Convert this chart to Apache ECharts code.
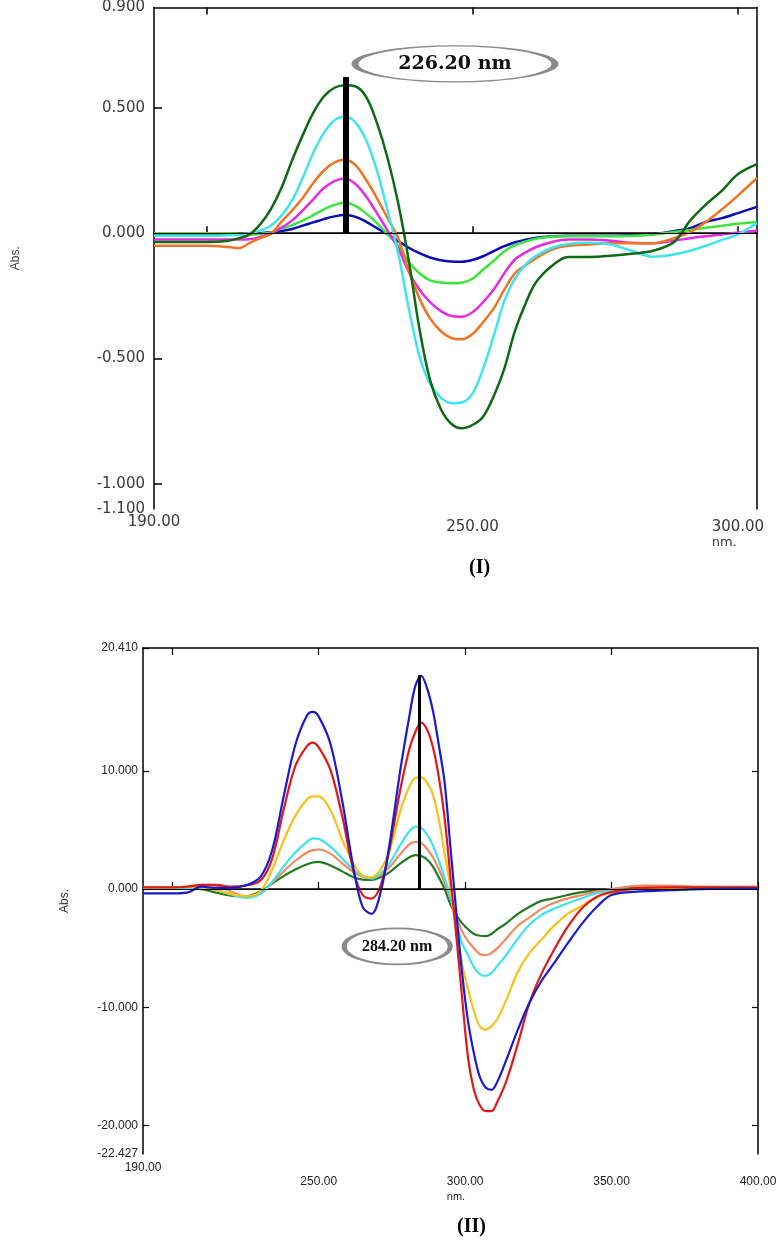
<!DOCTYPE html>
<html>
<head>
<meta charset="utf-8">
<script src="https://cdn.jsdelivr.net/npm/echarts@6/dist/echarts.min.js"></script>
<style>
  html, body { margin: 0; padding: 0; background: #fff; }
  #spectra { width: 780px; height: 1240px; }
</style>
</head>
<body>
<div id="spectra"></div>
<script>
// ---------- (I) first-derivative spectra, 190-303.6 nm ----------
var wlTop = [190, 200, 204, 206, 208, 210, 212, 214, 216, 218, 220, 222, 224, 226, 228, 230, 232, 234, 236, 238, 240, 242, 244, 246, 248, 250, 252, 254, 256, 258, 260, 262, 265, 268, 272, 276, 280, 284, 288, 291, 294, 297, 300, 303.6];
var topDarkGreen = [-0.035, -0.035, -0.03, -0.02, -0.005, 0.035, 0.095, 0.18, 0.29, 0.39, 0.48, 0.545, 0.58, 0.59, 0.585, 0.543, 0.44, 0.30, 0.12, -0.11, -0.38, -0.585, -0.70, -0.76, -0.778, -0.765, -0.732, -0.65, -0.54, -0.39, -0.28, -0.195, -0.13, -0.095, -0.095, -0.09, -0.082, -0.07, -0.035, 0.05, 0.115, 0.17, 0.235, 0.275];
var topCyan = [-0.01, -0.01, -0.008, -0.005, 0.0, 0.01, 0.03, 0.07, 0.13, 0.22, 0.32, 0.40, 0.45, 0.465, 0.44, 0.37, 0.25, 0.09, -0.08, -0.30, -0.49, -0.60, -0.655, -0.678, -0.675, -0.64, -0.54, -0.41, -0.27, -0.18, -0.125, -0.09, -0.058, -0.043, -0.038, -0.045, -0.07, -0.094, -0.085, -0.07, -0.05, -0.027, -0.005, 0.04];
var topOrange = [-0.05, -0.05, -0.055, -0.06, -0.04, -0.02, -0.003, 0.045, 0.09, 0.14, 0.20, 0.25, 0.282, 0.294, 0.27, 0.211, 0.14, 0.06, -0.02, -0.15, -0.26, -0.34, -0.39, -0.418, -0.423, -0.402, -0.355, -0.30, -0.225, -0.16, -0.128, -0.10, -0.065, -0.05, -0.045, -0.04, -0.04, -0.04, -0.02, 0.005, 0.045, 0.095, 0.15, 0.22];
var topMagenta = [-0.025, -0.025, -0.025, -0.025, -0.024, -0.015, 0.0, 0.022, 0.05, 0.09, 0.135, 0.18, 0.208, 0.218, 0.195, 0.145, 0.08, 0.01, -0.06, -0.155, -0.225, -0.275, -0.31, -0.33, -0.333, -0.315, -0.275, -0.225, -0.16, -0.105, -0.077, -0.055, -0.035, -0.025, -0.025, -0.03, -0.038, -0.04, -0.03, -0.02, -0.012, -0.005, 0.003, 0.01];
var topGreen = [0.0, 0.0, 0.0, -0.002, -0.005, -0.003, 0.003, 0.018, 0.032, 0.05, 0.072, 0.095, 0.113, 0.121, 0.108, 0.078, 0.04, -0.005, -0.05, -0.115, -0.16, -0.188, -0.197, -0.2, -0.198, -0.182, -0.145, -0.11, -0.072, -0.048, -0.033, -0.022, -0.013, -0.012, -0.012, -0.012, -0.01, -0.005, 0.005, 0.013, 0.022, 0.03, 0.038, 0.045];
var topBlue = [-0.008, -0.008, -0.006, -0.004, -0.002, 0.0, 0.004, 0.009, 0.017, 0.03, 0.043, 0.056, 0.067, 0.072, 0.065, 0.045, 0.02, -0.005, -0.032, -0.058, -0.08, -0.097, -0.108, -0.113, -0.114, -0.107, -0.092, -0.072, -0.052, -0.036, -0.026, -0.018, -0.012, -0.01, -0.01, -0.01, -0.008, -0.004, 0.008, 0.02, 0.045, 0.06, 0.08, 0.105];

var topYLabels = [0.9, 0.5, 0, -0.5, -1.0, -1.1];
var topYTicks = [0.5, 0, -0.5, -1.0];
var topXLabels = [250, 300];
var topXTicks = [200, 250, 300];
var topPeak = 226.2;

// ---------- (II) first-derivative spectra, 190-400 nm ----------
var wlBot = [190, 200, 205, 210, 215, 220, 225, 230, 234, 238, 242, 246, 248, 250, 254, 258, 262, 265, 268, 271, 274, 278, 281, 283, 285, 287, 289, 291, 293, 295, 297, 299, 301, 303, 305, 307, 309, 311, 314, 318, 322, 326, 330, 335, 340, 345, 350, 360, 370, 380, 390, 400];
var botBlue = [-0.37, -0.37, -0.3, 0.2, 0.1, 0.1, 0.3, 1.0, 3.2, 7.8, 12.2, 14.7, 15.0, 14.6, 12.3, 7.5, 1.6, -1.5, -2.1, -0.4, 3.5, 10.3, 14.7, 17.2, 18.05, 17.0, 15.1, 12.2, 9.0, 3.5, -2.0, -7.2, -11.2, -13.9, -15.9, -16.8, -17.0, -16.3, -14.5, -11.9, -9.6, -7.8, -6.4, -4.6, -2.9, -1.5, -0.5, -0.2, -0.1, 0.0, 0.05, 0.05];
var botRed = [0.15, 0.15, 0.2, 0.35, 0.35, 0.2, 0.3, 0.7, 2.5, 6.7, 10.4, 12.1, 12.4, 12.0, 10.1, 6.2, 1.4, -0.5, -0.8, 0.2, 3.2, 8.6, 11.9, 13.3, 14.1, 13.5, 12.0, 9.5, 6.0, 1.0, -4.0, -9.3, -14.3, -17.0, -18.3, -18.8, -18.8, -18.0, -16.3, -13.1, -9.6, -7.2, -5.3, -3.2, -1.6, -0.65, -0.25, 0.1, 0.15, 0.15, 0.15, 0.15];
var botYellow = [0.15, 0.15, 0.2, 0.15, -0.1, -0.4, -0.62, -0.2, 1.6, 4.1, 6.2, 7.6, 7.85, 7.85, 6.7, 4.2, 2.1, 1.15, 1.0, 1.6, 3.1, 6.7, 8.7, 9.4, 9.45, 9.0, 8.0, 5.9, 3.0, 0.1, -3.6, -6.4, -8.5, -10.3, -11.6, -11.9, -11.6, -11.0, -9.4, -7.0, -5.4, -4.3, -3.2, -2.1, -1.4, -0.65, -0.35, 0.05, 0.1, 0.1, 0.15, 0.15];
var botCyan = [0.1, 0.1, 0.1, 0.1, -0.1, -0.45, -0.75, -0.4, 0.6, 1.9, 3.1, 4.0, 4.3, 4.25, 3.6, 2.6, 1.6, 1.1, 0.9, 1.3, 2.1, 3.8, 4.9, 5.3, 5.2, 4.6, 3.7, 2.4, 0.9, -0.7, -2.9, -4.6, -5.6, -6.6, -7.2, -7.35, -7.1, -6.5, -5.6, -4.2, -3.0, -2.2, -1.7, -1.2, -0.75, -0.35, -0.15, 0.05, 0.1, 0.05, 0.1, 0.1];
var botSalmon = [0.15, 0.15, 0.2, 0.35, 0.3, -0.2, -0.6, -0.4, 0.5, 1.5, 2.4, 3.1, 3.3, 3.35, 3.0, 2.2, 1.4, 1.05, 0.9, 1.2, 1.8, 3.0, 3.8, 4.0, 3.9, 3.4, 2.7, 1.7, 0.5, -0.8, -2.3, -3.6, -4.4, -5.0, -5.5, -5.6, -5.4, -5.0, -4.2, -3.1, -2.4, -1.7, -1.2, -0.8, -0.5, -0.2, 0.0, 0.3, 0.3, 0.2, 0.2, 0.2];
var botDarkGreen = [0.1, 0.1, 0.05, 0.0, -0.3, -0.55, -0.6, -0.2, 0.45, 1.1, 1.65, 2.1, 2.25, 2.3, 2.0, 1.5, 1.0, 0.8, 0.78, 1.0, 1.4, 2.2, 2.7, 2.88, 2.8, 2.5, 1.9, 1.0, 0.0, -1.3, -2.2, -2.9, -3.4, -3.8, -3.95, -3.98, -3.8, -3.4, -2.9, -2.1, -1.5, -1.0, -0.8, -0.5, -0.25, -0.1, 0.0, 0.1, 0.1, 0.1, 0.1, 0.1];

var botYLabels = [20.41, 10, 0, -10, -20, -22.427];
var botYTicks = [20.41, 10, 0, -10, -20];
var botXLabels = [250, 300, 350, 400];
var botXTicks = [200, 250, 300, 350, 400];
var botPeak = 284.2;

function pairs(xs, ys) {
  return xs.map(function (x, i) { return [x, ys[i]]; });
}

function curve(name, xs, ys, color, idx, width) {
  return {
    name: name,
    type: 'line',
    xAxisIndex: idx,
    yAxisIndex: idx === 0 ? 0 : 2,
    data: pairs(xs, ys),
    smooth: 0.35,
    showSymbol: false,
    symbol: 'none',
    lineStyle: { color: color, width: width },
    itemStyle: { color: color },
    silent: true
  };
}

var black = '#000';
var labelTop = { fontFamily: 'DejaVu Sans', fontSize: 15, color: '#3a3a3a' };
var labelBot = { fontFamily: 'Liberation Sans', fontSize: 12, color: '#222' };
var ellipsePath = 'path://M0,50 A50,50 0 1,1 100,50 A50,50 0 1,1 0,50 Z';

var chart = echarts.init(document.getElementById('spectra'), null, { renderer: 'canvas' });

var option = {
  backgroundColor: '#fff',
  animation: false,
  title: [
    { text: '(I)', left: 464, top: 553, textStyle: { fontFamily: 'Liberation Serif', fontWeight: 'bold', fontSize: 20, color: '#000' } },
    { text: '(II)', left: 452, top: 1212, textStyle: { fontFamily: 'Liberation Serif', fontWeight: 'bold', fontSize: 20, color: '#000' } }
  ],
  grid: [
    { left: 154, top: 7, width: 603, height: 502 },
    { left: 143, top: 648, width: 615, height: 506 }
  ],
  xAxis: [
    { // 0: top chart bottom axis
      type: 'value', gridIndex: 0, min: 190, max: 303.6, position: 'bottom',
      axisLine: { lineStyle: { color: black, width: 1.5 } },
      axisTick: { inside: true, length: 7, customValues: topXTicks, lineStyle: { color: black, width: 1.5 } },
      axisLabel: Object.assign({
        customValues: topXLabels, margin: 11,
        formatter: function (v) { return v === 300 ? '300.00\n{n|nm.}' : v.toFixed(2); },
        rich: { n: { align: 'left', fontFamily: 'DejaVu Sans', fontSize: 13, color: '#3a3a3a', padding: [1, 0, 0, 0] } }
      }, labelTop),
      splitLine: { show: false }
    },
    { // 1: lone 190 label, sits a little higher
      type: 'value', gridIndex: 0, min: 190, max: 303.6, position: 'bottom',
      axisLine: { show: false }, axisTick: { show: false }, splitLine: { show: false },
      axisLabel: Object.assign({ customValues: [190], margin: 6, formatter: function (v) { return v.toFixed(2); } }, labelTop)
    },
    { // 2: top chart frame
      type: 'value', gridIndex: 0, min: 190, max: 303.6, position: 'top',
      axisLine: { lineStyle: { color: black, width: 1.5 } },
      axisTick: { inside: true, length: 7, customValues: topXTicks, lineStyle: { color: black, width: 1.5 } },
      axisLabel: { show: false }, splitLine: { show: false }
    },
    { // 3: bottom chart axis
      type: 'value', gridIndex: 1, min: 190, max: 400, position: 'bottom',
      axisLine: { lineStyle: { color: black, width: 1.5 } },
      axisTick: { inside: true, length: 7, customValues: botXTicks, lineStyle: { color: black, width: 1.2 } },
      axisLabel: Object.assign({
        customValues: botXLabels, margin: 22,
        formatter: function (v) { return v === 300 ? '300.00\n{n|nm.}' : v.toFixed(2); },
        rich: { n: { align: 'left', fontFamily: 'Liberation Sans', fontSize: 11, color: '#222', padding: [3, 0, 0, 0] } }
      }, labelBot),
      splitLine: { show: false }
    },
    { // 4: lone 190 label
      type: 'value', gridIndex: 1, min: 190, max: 400, position: 'bottom',
      axisLine: { show: false }, axisTick: { show: false }, splitLine: { show: false },
      axisLabel: Object.assign({ customValues: [190], margin: 8, formatter: function (v) { return v.toFixed(2); } }, labelBot)
    },
    { // 5: bottom chart frame
      type: 'value', gridIndex: 1, min: 190, max: 400, position: 'top',
      axisLine: { lineStyle: { color: black, width: 1.5 } },
      axisTick: { inside: true, length: 7, customValues: [200, 250, 300, 350], lineStyle: { color: black, width: 1.2 } },
      axisLabel: { show: false }, splitLine: { show: false }
    }
  ],
  yAxis: [
    { // 0
      type: 'value', gridIndex: 0, min: -1.1, max: 0.9, position: 'left',
      name: 'Abs.', nameLocation: 'middle', nameRotate: 90, nameGap: 132,
      nameTextStyle: { fontFamily: 'Liberation Sans', fontSize: 12, color: '#444' },
      axisLine: { lineStyle: { color: black, width: 1.5 } },
      axisTick: { inside: true, length: 8, customValues: topYTicks, lineStyle: { color: black, width: 1.5 } },
      axisLabel: Object.assign({ customValues: topYLabels, margin: 9, formatter: function (v) { return v.toFixed(3); } }, labelTop),
      splitLine: { show: false }
    },
    { // 1
      type: 'value', gridIndex: 0, min: -1.1, max: 0.9, position: 'right',
      axisLine: { lineStyle: { color: black, width: 1.5 } },
      axisTick: { show: false }, axisLabel: { show: false }, splitLine: { show: false }
    },
    { // 2
      type: 'value', gridIndex: 1, min: -22.427, max: 20.41, position: 'left',
      name: 'Abs.', nameLocation: 'middle', nameRotate: 90, nameGap: 72,
      nameTextStyle: { fontFamily: 'Liberation Sans', fontSize: 12, color: '#333' },
      axisLine: { lineStyle: { color: black, width: 1.5 } },
      axisTick: { inside: true, length: 6, customValues: botYTicks, lineStyle: { color: black, width: 1.2 } },
      axisLabel: Object.assign({ customValues: botYLabels, margin: 5, formatter: function (v) { return v.toFixed(3); } }, labelBot),
      splitLine: { show: false }
    },
    { // 3
      type: 'value', gridIndex: 1, min: -22.427, max: 20.41, position: 'right',
      axisLine: { lineStyle: { color: black, width: 1.5 } },
      axisTick: { inside: true, length: 6, customValues: [10, 0, -10, -20], lineStyle: { color: black, width: 1.2 } },
      axisLabel: { show: false }, splitLine: { show: false }
    }
  ],
  series: [
    curve('I-blue', wlTop, topBlue, '#0a0ac0', 0, 2.5),
    curve('I-green', wlTop, topGreen, '#3ae63a', 0, 2.5),
    curve('I-magenta', wlTop, topMagenta, '#e52ce5', 0, 2.5),
    curve('I-orange', wlTop, topOrange, '#f07424', 0, 2.5),
    curve('I-cyan', wlTop, topCyan, '#3ee4ee', 0, 2.5),
    curve('I-darkgreen', wlTop, topDarkGreen, '#0d6a14', 0, 2.5),

    curve('II-darkgreen', wlBot, botDarkGreen, '#217a21', 3, 2.2),
    curve('II-salmon', wlBot, botSalmon, '#f08a5d', 3, 2.2),
    curve('II-cyan', wlBot, botCyan, '#3de3ee', 3, 2.2),
    curve('II-yellow', wlBot, botYellow, '#f4c21a', 3, 2.2),
    curve('II-red', wlBot, botRed, '#e01818', 3, 2.2),
    curve('II-blue', wlBot, botBlue, '#1a1ad0', 3, 2.2),

    { // annotations, chart I
      type: 'line', xAxisIndex: 0, yAxisIndex: 0, data: [], silent: true, z: 5,
      markLine: {
        silent: true, symbol: 'none', animation: false,
        label: { show: false },
        data: [
          [{ coord: [190, 0], lineStyle: { color: black, width: 1, type: 'solid' } }, { coord: [303.6, 0] }],
          [{ coord: [topPeak, 0], lineStyle: { color: black, width: 6, type: 'solid' } }, { coord: [topPeak, 0.623] }]
        ]
      },
      markPoint: {
        silent: true, animation: false,
        symbol: ellipsePath,
        symbolKeepAspect: false,
        symbolSize: [200, 36],
        itemStyle: { color: '#fff', borderColor: '#8a8a8a', borderWidth: 3 },
        label: {
          show: true, position: 'inside', formatter: '226.20 nm',
          fontFamily: 'DejaVu Serif', fontWeight: 'bold', fontSize: 19, color: '#111'
        },
        data: [{ coord: [246.7, 0.675] }]
      }
    },
    { // annotations, chart II
      type: 'line', xAxisIndex: 3, yAxisIndex: 2, data: [], silent: true, z: 5,
      markLine: {
        silent: true, symbol: 'none', animation: false,
        label: { show: false },
        data: [
          [{ coord: [190, 0], lineStyle: { color: black, width: 1, type: 'solid' } }, { coord: [400, 0] }],
          [{ coord: [botPeak, 0], lineStyle: { color: black, width: 3, type: 'solid' } }, { coord: [botPeak, 18.1] }]
        ]
      },
      markPoint: {
        silent: true, animation: false,
        symbol: ellipsePath,
        symbolKeepAspect: false,
        symbolSize: [106, 36],
        itemStyle: { color: '#fff', borderColor: '#8a8a8a', borderWidth: 3 },
        label: {
          show: true, position: 'inside', formatter: '284.20 nm',
          fontFamily: 'Liberation Serif', fontWeight: 'bold', fontSize: 16, color: '#111'
        },
        data: [{ coord: [276.8, -4.85] }]
      }
    }
  ]
};

chart.setOption(option);

window.addEventListener('resize', function () {
  chart.resize();
});
</script>
</body>
</html>
